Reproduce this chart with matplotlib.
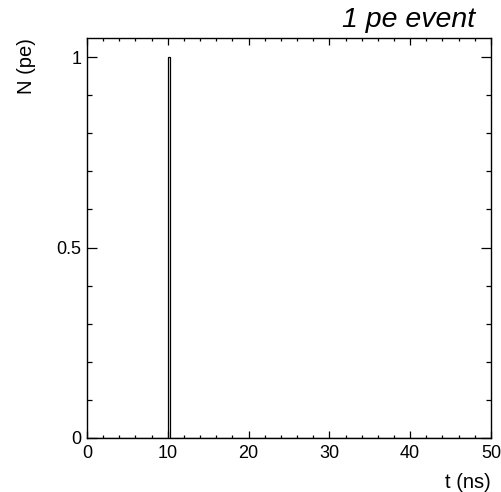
import numpy as np
import matplotlib.pyplot as plt
from matplotlib.ticker import MultipleLocator, FuncFormatter

plt.rcParams['font.family'] = ['Liberation Sans', 'DejaVu Sans']

# photoelectron arrival times (ns) for a single-pe event
pe_times = [10.1]
t_range = (0.0, 50.0)
n_bins = 200

counts, edges = np.histogram(pe_times, bins=n_bins, range=t_range)

fig = plt.figure(figsize=(5.02, 4.92), dpi=100)
ax = fig.add_axes([0.1733, 0.1098, 0.8047, 0.813])

ax.stairs(counts, edges, color='black', linewidth=0.9, baseline=0)

ax.set_xlim(*t_range)
ax.set_ylim(0, 1.05)

ax.xaxis.set_major_locator(MultipleLocator(10))
ax.xaxis.set_minor_locator(MultipleLocator(2))
ax.yaxis.set_major_locator(MultipleLocator(0.5))
ax.yaxis.set_minor_locator(MultipleLocator(0.1))
ax.yaxis.set_major_formatter(FuncFormatter(lambda v, p: f'{v:g}'))

ax.tick_params(axis='both', which='both', direction='in', top=True, right=True,
               labelsize=13, width=0.9)
ax.tick_params(axis='x', which='major', length=5, pad=5)
ax.tick_params(axis='x', which='minor', length=2.5)
ax.tick_params(axis='y', which='major', length=7, pad=4)
ax.tick_params(axis='y', which='minor', length=3.5)
for s in ax.spines.values():
    s.set_linewidth(1.0)

ax.set_xlabel('t (ns)', fontsize=14.5, loc='right', labelpad=8)
ax.set_ylabel('N (pe)', fontsize=14.5, loc='top', labelpad=15)
fig.text(0.946, 0.946, '1 pe event', ha='right', va='baseline',
         fontsize=20.5, style='italic')

fig.savefig('out.png', dpi=100)
